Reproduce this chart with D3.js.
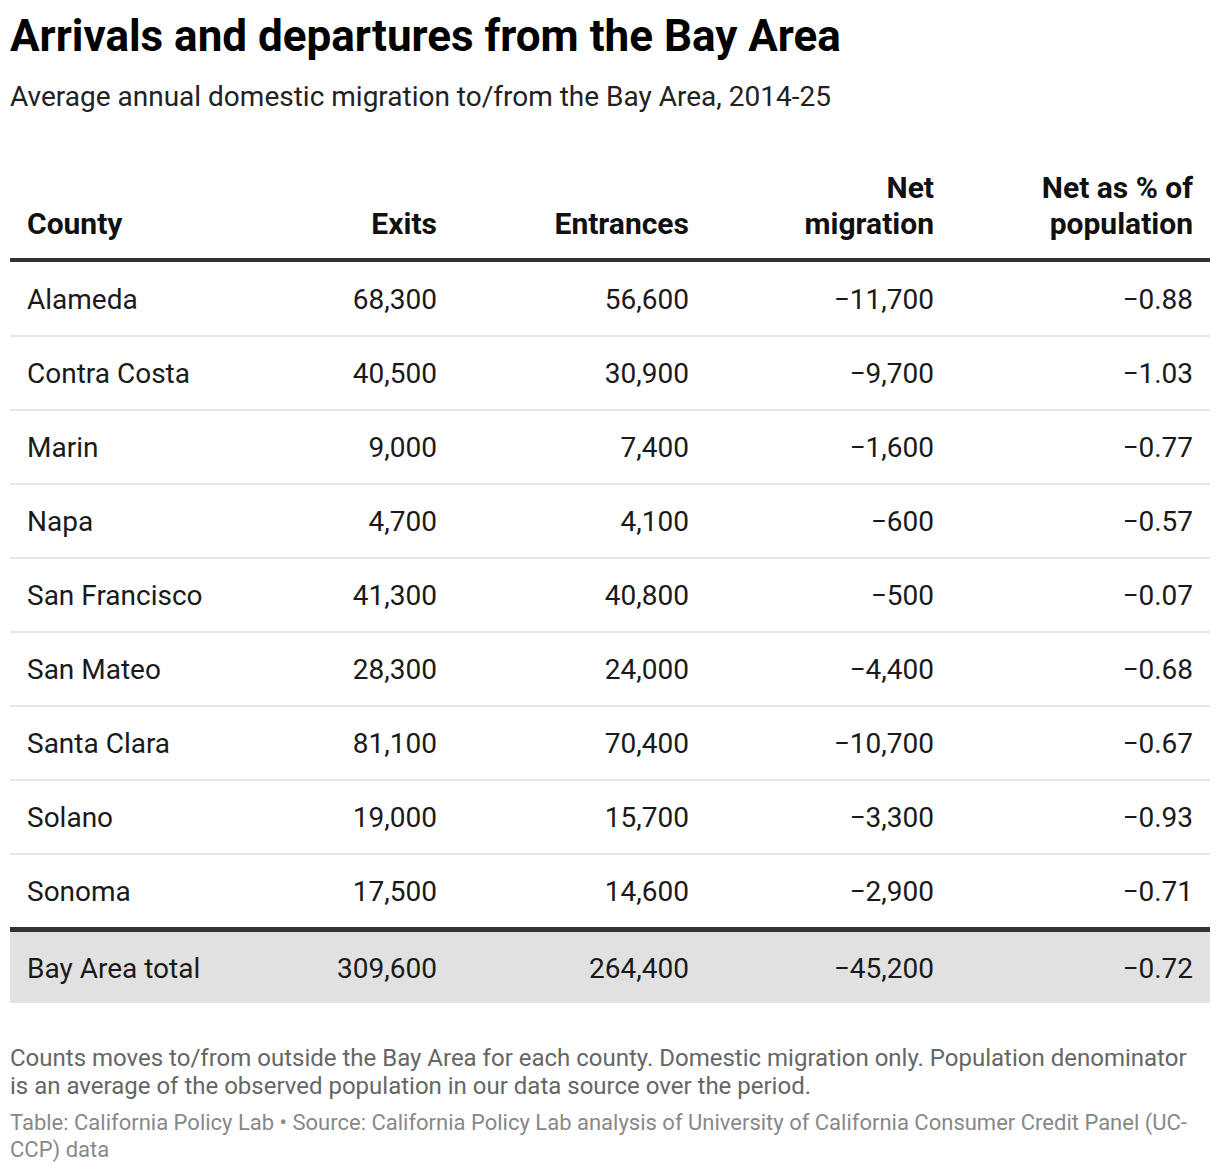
<!DOCTYPE html>
<html>
<head>
<meta charset="utf-8">
<script src="https://cdn.jsdelivr.net/npm/d3@7"></script>
<style>
  body { margin: 0; background: #fff; font-family: Roboto, "Noto Sans", sans-serif; }
</style>
</head>
<body>
<div id="chart"></div>
<script>
    const counties = ["Alameda", "Contra Costa", "Marin", "Napa", "San Francisco", "San Mateo", "Santa Clara", "Solano", "Sonoma"];
    const exits = [68300, 40500, 9000, 4700, 41300, 28300, 81100, 19000, 17500];
    const entrances = [56600, 30900, 7400, 4100, 40800, 24000, 70400, 15700, 14600];
    const netMigration = [-11700, -9700, -1600, -600, -500, -4400, -10700, -3300, -2900];
    const netPct = [-0.88, -1.03, -0.77, -0.57, -0.07, -0.68, -0.67, -0.93, -0.71];
    const total = ["Bay Area total", 309600, 264400, -45200, -0.72];
    const headers = [["County"], ["Exits"], ["Entrances"], ["Net", "migration"], ["Net as % of", "population"]];

    const w = 1220;
    const h = 1172;

    const svg = d3.select('#chart')
        .append('svg')
        .attr('width', w)
        .attr('height', h);

    svg.append('text')
        .attr('x', 10)
        .attr('y', 51)
        .attr('font-size', '44px')
        .attr('font-weight', 700)
        .attr('fill', '#000')
        .text("Arrivals and departures from the Bay Area");

    svg.append('text')
        .attr('x', 10)
        .attr('y', 106)
        .attr('font-size', '28px')
        .attr('fill', '#222')
        .text("Average annual domestic migration to/from the Bay Area, 2014-25");

    // column right/left edges
    const colX = [27, 437, 689, 934, 1193];
    const anchors = ["start", "end", "end", "end", "end"];

    const yScale = d3.scaleBand()
        .domain(counties)
        .range([262, 928]);

    const fmt = d3.format(",");
    const fmtPct = d3.format(".2f");
    const minus = (s) => s.replace("-", "\u2212");

    // header
    headers.forEach(function (lines, i) {
        const t = svg.append('text')
            .attr('x', colX[i])
            .attr('y', 234 - 36 * (lines.length - 1))
            .attr('text-anchor', anchors[i])
            .attr('font-size', '30px')
            .attr('font-weight', 700)
            .attr('fill', '#111');
        lines.forEach(function (l, j) {
            t.append('tspan')
                .attr('x', colX[i])
                .attr('dy', j === 0 ? 0 : 36)
                .text(l);
        });
    });

    // row separators
    svg.selectAll('.sep')
        .data(counties.slice(0, -1))
        .enter()
        .append('line')
        .attr('class', 'sep')
        .attr('x1', 10)
        .attr('x2', 1210)
        .attr('y1', (d) => yScale(d) + yScale.bandwidth())
        .attr('y2', (d) => yScale(d) + yScale.bandwidth())
        .attr('stroke', '#e6e6e6')
        .attr('stroke-width', 2);

    const rows = counties.map((c, i) => [c, fmt(exits[i]), fmt(entrances[i]), minus(fmt(netMigration[i])), minus(fmtPct(netPct[i]))]);

    const rowG = svg.selectAll('.row')
        .data(rows)
        .enter()
        .append('g')
        .attr('class', 'row')
        .attr('transform', (d) => "translate(0," + (yScale(d[0]) + yScale.bandwidth() / 2) + ")");

    rowG.selectAll('text')
        .data((d) => d)
        .enter()
        .append('text')
        .attr('x', (d, i) => colX[i])
        .attr('y', 10)
        .attr('text-anchor', (d, i) => anchors[i])
        .attr('font-size', '28px')
        .attr('fill', '#1a1a1a')
        .text((d) => d);

    // total row
    const totalTop = 932;
    const totalH = 71;
    svg.append('rect')
        .attr('x', 10)
        .attr('y', totalTop)
        .attr('width', 1200)
        .attr('height', totalH)
        .attr('fill', '#e1e1e1');

    const totalCells = [total[0], fmt(total[1]), fmt(total[2]), minus(fmt(total[3])), minus(fmtPct(total[4]))];
    svg.selectAll('.total')
        .data(totalCells)
        .enter()
        .append('text')
        .attr('class', 'total')
        .attr('x', (d, i) => colX[i])
        .attr('y', totalTop + totalH / 2 + 10)
        .attr('text-anchor', (d, i) => anchors[i])
        .attr('font-size', '28px')
        .attr('fill', '#1a1a1a')
        .text((d) => d);

    // thick rules
    svg.append('line')
        .attr('x1', 10).attr('x2', 1210)
        .attr('y1', 260).attr('y2', 260)
        .attr('stroke', '#333')
        .attr('stroke-width', 4);

    svg.append('line')
        .attr('x1', 10).attr('x2', 1210)
        .attr('y1', 929.5).attr('y2', 929.5)
        .attr('stroke', '#333')
        .attr('stroke-width', 5);

    // notes
    const notes = ["Counts moves to/from outside the Bay Area for each county. Domestic migration only. Population denominator",
        "is an average of the observed population in our data source over the period."];
    svg.selectAll('.note')
        .data(notes)
        .enter()
        .append('text')
        .attr('class', 'note')
        .attr('x', 10)
        .attr('y', (d, i) => 1066 + 28 * i)
        .attr('font-size', '24px')
        .attr('fill', '#666')
        .text((d) => d);

    const source = ["Table: California Policy Lab \u2022 Source: California Policy Lab analysis of University of California Consumer Credit Panel (UC-",
        "CCP) data"];
    svg.selectAll('.source')
        .data(source)
        .enter()
        .append('text')
        .attr('class', 'source')
        .attr('x', 10)
        .attr('y', (d, i) => 1130 + 27 * i)
        .attr('font-size', '22px')
        .attr('fill', '#888')
        .text((d) => d);
</script>
</body>
</html>
